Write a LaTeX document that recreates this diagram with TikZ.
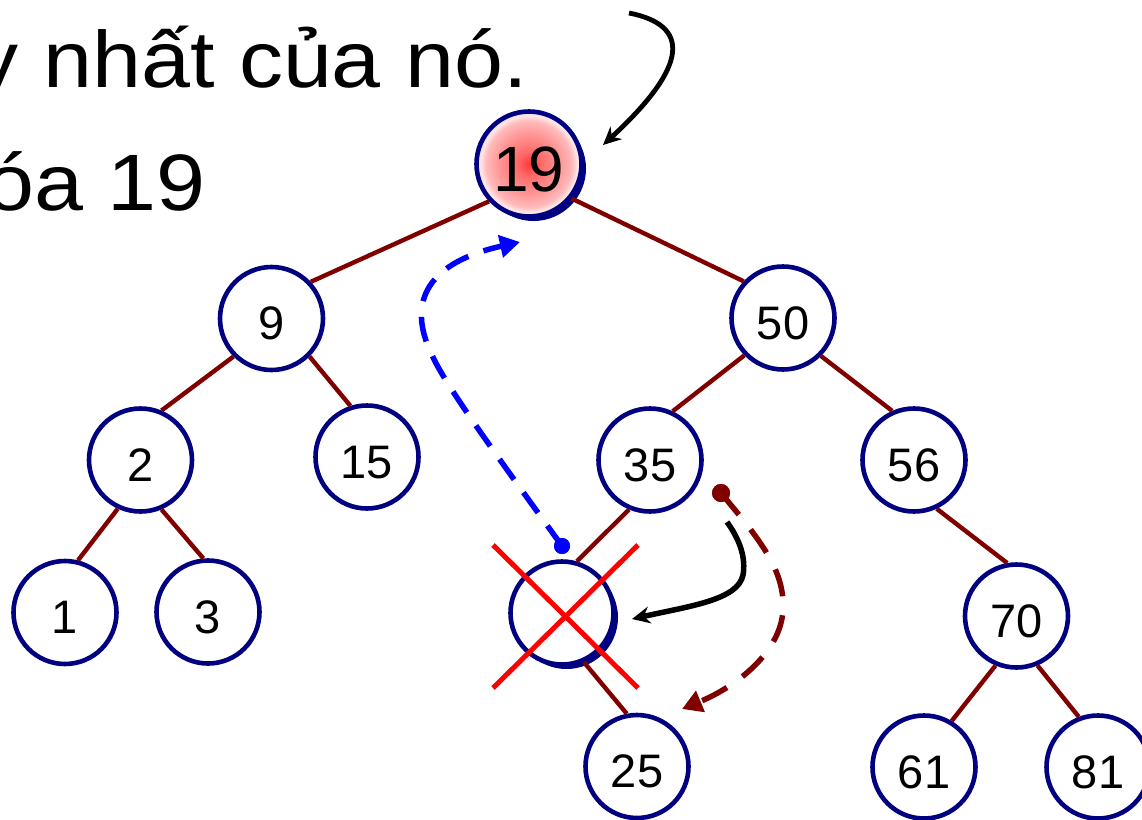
\documentclass[tikz,border=0pt]{standalone}
\usepackage{fontspec}
\setmainfont{Liberation Sans}
\newfontfamily\headfont[FakeStretch=1.1]{Liberation Sans}
\usetikzlibrary{arrows.meta,shadows}
\definecolor{navy}{RGB}{0,0,128}
\definecolor{edgered}{RGB}{128,0,0}
\pgfdeclareradialshading{hotcore}{\pgfpoint{0bp}{0bp}}{color(0bp)=(red!78); color(6bp)=(red!58); color(14bp)=(red!42); color(20.5bp)=(red!27); color(23bp)=(red!10); color(24.5bp)=(white!88!blue); color(50bp)=(white!88!blue)}
\begin{document}
\begin{tikzpicture}[x=1pt,y=-1pt,
  key/.style={circle, draw=navy, line width=4.6pt, fill=white, minimum size=103pt, inner sep=0pt,
    font=\fontsize{47}{47}\selectfont, text height=42pt, text depth=0pt},
  raised/.style={drop shadow={shadow xshift=4.5pt, shadow yshift=-4.5pt, fill=navy, opacity=1}},
  link/.style={draw=edgered, line width=4.4pt},
  cross/.style={draw=red, line width=5pt},
  dot/.style={circle, inner sep=0pt, minimum size=#1},
  bluedash/.style={draw=blue, line width=5.5pt, dash pattern=on 25pt off 16pt,
    -{Triangle[length=20pt,width=22pt]}},
  reddash/.style={draw=edgered, line width=5.5pt, dash pattern=on 28pt off 19pt,
    -{Triangle[length=20pt,width=22pt]}},
  pointer/.style={draw=black, line width=#1, -{Stealth[length=18pt,width=17pt,inset=6pt]}},
  headline/.style={anchor=base east, inner sep=0pt, font=\headfont\fontsize{80}{80}\selectfont}
]
\useasboundingbox (0,0) rectangle (1142,819);

% heading text
\node[headline] (lineA) at (528,87) {y nhất của nó.};
\node[headline] (lineB) at (206,210) {óa 19};

% tree keys
\node[key, raised, shading=hotcore, minimum size=105pt,
      font=\fontsize{64}{64}\selectfont, text height=54pt] (n19) at (529,164) {19};
\node[key] (n9)  at (271.5,318.5) {9};
\node[key] (n50) at (783,318) {50};
\node[key] (n2)  at (140.5,460) {2};
\node[key] (n15) at (367,457) {15};
\node[key] (n35) at (650,460) {35};
\node[key] (n56) at (914,460) {56};
\node[key] (n1)  at (65,612.5) {1};
\node[key] (n3)  at (208,612) {3};
\node[key, raised] (ndel) at (562,613) {};
\node[key] (n70) at (1016.5,616) {70};
\node[key] (n25) at (637,766.5) {25};
\node[key] (n61) at (924,767) {61};
\node[key] (n81) at (1098,767) {81};

% tree edges
\draw[link] (n19.223) -- (n9.43);
\draw[link] (n19.321) -- (n50.137);
\draw[link] (n9.225)  -- (n2.67);
\draw[link] (n9.315)  -- (n15.108);
\draw[link] (n50.224) -- (n35.65);
\draw[link] (n50.315) -- (n56.114);
\draw[link] (n2.245)  -- (n1.76);
\draw[link] (n2.293)  -- (n3.95);
\draw[link] (n35.247) -- (ndel.74);
\draw[link] (n56.295) -- (n70.100);
\draw[link] (ndel.294) -- (n25.101);
\draw[link] (n70.247) -- (n61.59);
\draw[link] (n70.293) -- (n81.111);

% the removed key is crossed out
\coordinate (xa) at (493,545);
\coordinate (xb) at (638,688);
\coordinate (xc) at (638,545);
\coordinate (xd) at (493,688);
\draw[cross] (xa) -- (xb);
\draw[cross] (xc) -- (xd);

% pointer to the key being deleted
\coordinate (ptrStart) at (629,13);
\coordinate (ptrEnd) at (603,145);
\draw[pointer=4.8pt] (ptrStart) .. controls (690,25) and (690,65) .. (ptrEnd);

% successor value moves up
\node[dot=16pt, fill=blue] (bdot) at (562,546) {};
\coordinate (bbend) at (432,355);
\coordinate (bEnd) at (520,242);
\draw[bluedash] (bdot.center) .. controls (500,460) and (445,385) .. (bbend)
  .. controls (405,300) and (430,262) .. (bEnd);
\node[dot=16pt, fill=blue] at (bdot) {};

% right child of the successor moves up
\node[dot=18pt, fill=edgered] (rdot) at (721,493) {};
\coordinate (rbend) at (783,610);
\coordinate (rEnd) at (682,709);
\draw[reddash] (rdot.center) .. controls (760,540) and (785,570) .. (rbend)
  .. controls (781,650) and (740,685) .. (rEnd);
\node[dot=18pt, fill=edgered] at (rdot) {};

% link replaced
\coordinate (kStart) at (727,522);
\coordinate (kBend) at (743,575);
\coordinate (kEnd) at (632,619);
\draw[pointer=5.5pt] (kStart) .. controls (740,540) and (746,558) .. (kBend)
  .. controls (738,600) and (690,606) .. (kEnd);
\end{tikzpicture}
\end{document}
